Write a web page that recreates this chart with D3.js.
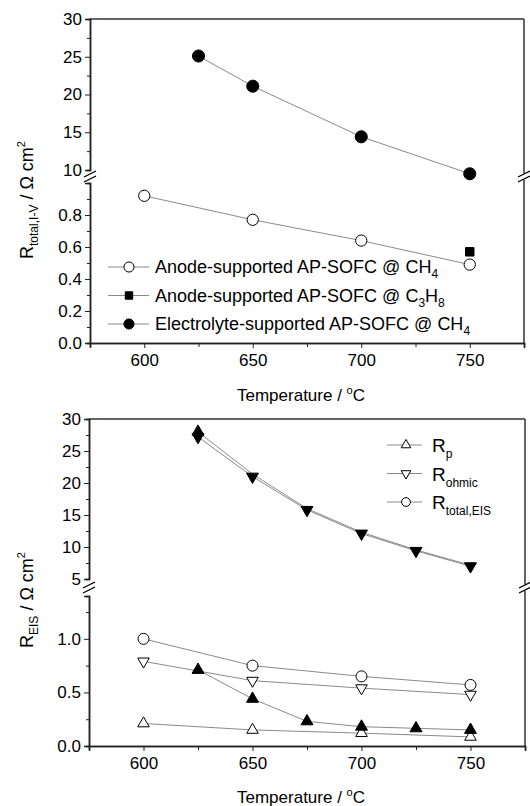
<!DOCTYPE html>
<meta charset="utf-8">
<script src="https://d3js.org/d3.v7.min.js"></script>
<style>
body{margin:0;background:#fff;}
text{font-family:"Liberation Sans",Arial,sans-serif;fill:#000;}
</style>
<body>
<script>
// ---- data ----
var tempsA=[600,650,700,750];
var tempsE=[625,650,675,700,725,750];
// top panel
var anodeCH4=[0.92,0.77,0.64,0.49];
var anodeC3H8=[{t:750,v:0.57}];
var elecCH4T=[625,650,700,750];
var elecCH4=[25.1,21.1,14.4,9.5];
var legendTop=["Anode-supported AP-SOFC @ CH","Anode-supported AP-SOFC @ C","Electrolyte-supported AP-SOFC @ CH"];
// bottom panel
var rpA=[0.21,0.15,0.12,0.085];
var rohmA=[0.79,0.61,0.54,0.48];
var rtotA=[1.0,0.75,0.65,0.57];
var rpE=[0.71,0.44,0.23,0.18,0.165,0.15];
var rohmE=[27.2,21.0,15.8,12.1,9.4,7.0];
var rtotE=[28.0,21.4,16.0,12.3,9.55,7.15];
var xTicks=[600,650,700,750];

var svg=d3.select("body").append("svg").attr("width",530).attr("height",806);
var lineCol="#8a8a8a";

function sym(g,type,x,y,size,filled,rot){
  g.append("path")
   .attr("d",d3.symbol().type(type).size(size)())
   .attr("transform","translate("+x+","+y+")"+(rot?" rotate(180)":""))
   .attr("fill",filled?"#000":"#fff")
   .attr("stroke","#000").attr("stroke-width",1);
}

function drawPanel(o){
  var g=svg.append("g");
  var x=d3.scaleLinear().domain([575,775]).range([o.left,o.right]);
  var yU=d3.scaleLinear().domain(o.uDom).range(o.uRange);
  var yL=d3.scaleLinear().domain(o.lDom).range(o.lRange);

  // frame: top and right
  g.append("line").attr("x1",o.left).attr("x2",o.right).attr("y1",o.top).attr("y2",o.top)
    .attr("stroke","#333").attr("stroke-width",1.5);
  g.append("line").attr("x1",o.right).attr("x2",o.right).attr("y1",o.top).attr("y2",o.bottom)
    .attr("stroke","#333").attr("stroke-width",1.5);

  // y axes (two segments)
  var aU=g.append("g").attr("transform","translate("+o.left+",0)")
    .call(d3.axisLeft(yU).tickValues(o.uTicks).tickSize(5).tickPadding(3).tickFormat(d3.format("d")));
  g.append("g").attr("transform","translate("+o.left+",0)")
    .call(d3.axisLeft(yU).tickValues(o.uMinor).tickSize(3).tickFormat(""));
  var aL=g.append("g").attr("transform","translate("+o.left+",0)")
    .call(d3.axisLeft(yL).tickValues(o.lTicks).tickSize(5).tickPadding(3).tickFormat(d3.format(".1f")));
  g.append("g").attr("transform","translate("+o.left+",0)")
    .call(d3.axisLeft(yL).tickValues(o.lMinor).tickSize(3).tickFormat(""));
  // x axis
  g.append("g").attr("transform","translate(0,"+o.bottom+")")
    .call(d3.axisBottom(x).tickValues(xTicks).tickSize(5).tickPadding(6).tickFormat(d3.format("d")));
  g.append("g").attr("transform","translate(0,"+o.bottom+")")
    .call(d3.axisBottom(x).tickValues([625,675,725]).tickSize(4).tickFormat(""));
  g.selectAll(".domain").attr("stroke","#222").attr("stroke-width",1.5);
  g.selectAll(".tick line").attr("stroke","#222");
  g.selectAll(".tick text").style("font-size","17px").attr("fill","#000");

  // break marks
  var by=(o.uRange[0]+o.lRange[1])/2;
  [o.left,o.right].forEach(function(bx){
    g.append("rect").attr("x",bx-3).attr("y",by-3).attr("width",6).attr("height",6).attr("fill","#fff");
    [-2.5,2.5].forEach(function(d){
      g.append("line").attr("x1",bx-6).attr("x2",bx+6).attr("y1",by+d+3).attr("y2",by+d-3)
        .attr("stroke","#000").attr("stroke-width",1.3);
    });
  });

  // x title
  var xt=g.append("text").attr("x",(o.left+o.right)/2-6).attr("y",o.xTitleY)
    .attr("text-anchor","middle").style("font-size","17px");
  xt.append("tspan").text("Temperature / ");
  xt.append("tspan").text("o").style("font-size","11px").attr("dy",-7);
  xt.append("tspan").text("C").attr("dy",7);

  // y title
  var yt=g.append("text").attr("transform","translate(33,"+o.yTitleY+") rotate(-90)")
    .attr("text-anchor","middle").style("font-size","18px");
  yt.append("tspan").text("R");
  yt.append("tspan").text(o.ySub).style("font-size","12px").attr("dy",5);
  yt.append("tspan").text(" / \u03a9 cm").attr("dy",-5);
  yt.append("tspan").text("2").style("font-size","11px").attr("dy",-8);

  return {g:g,x:x,yU:yU,yL:yL};
}

function line(g,x,y,ts,vs){
  g.append("path").datum(vs)
   .attr("d",d3.line().x(function(d,i){return x(ts[i]);}).y(function(d){return y(d);}))
   .attr("fill","none").attr("stroke",lineCol).attr("stroke-width",1);
}

// ---------------- top panel ----------------
var P1=drawPanel({left:90,right:524,top:19,bottom:343,
  uDom:[10,30],uRange:[170,19],lDom:[0,1],lRange:[343,183],
  uTicks:[10,15,20,25,30],uMinor:[12.5,17.5,22.5,27.5].concat([9]),
  lTicks:[0,0.2,0.4,0.6,0.8],lMinor:[0.1,0.3,0.5,0.7,0.9],
  xTitleY:401,yTitleY:200,ySub:"total,I-V"});
var g1=P1.g;
var yU1=d3.scaleLinear().domain([10,30]).range([170,19]);
line(g1,P1.x,P1.yL,tempsA,anodeCH4);
line(g1,P1.x,yU1,elecCH4T,elecCH4);
anodeCH4.forEach(function(v,i){sym(g1,d3.symbolCircle,P1.x(tempsA[i]),P1.yL(v),100,false);});
anodeC3H8.forEach(function(d){sym(g1,d3.symbolSquare,P1.x(d.t),P1.yL(d.v),72,true);});
elecCH4.forEach(function(v,i){sym(g1,d3.symbolCircle,P1.x(elecCH4T[i]),yU1(v),115,true);});

// top legend
var legSyms=[[d3.symbolCircle,false,80],[d3.symbolSquare,true,55],[d3.symbolCircle,true,80]];
var legSubs=["4","3","4"];
legendTop.forEach(function(t,i){
  var ly=267+i*28.5;
  g1.append("line").attr("x1",108).attr("x2",149).attr("y1",ly).attr("y2",ly).attr("stroke",lineCol);
  sym(g1,legSyms[i][0],129,ly,legSyms[i][2],legSyms[i][1]);
  var tx=g1.append("text").attr("x",155).attr("y",ly+6).style("font-size","18px");
  tx.append("tspan").text(t);
  if(i==1){
    tx.append("tspan").text("3").style("font-size","12px").attr("dy",5);
    tx.append("tspan").text("H").attr("dy",-5);
    tx.append("tspan").text("8").style("font-size","12px").attr("dy",5);
  } else {
    tx.append("tspan").text(legSubs[i]).style("font-size","12px").attr("dy",5);
  }
});

// ---------------- bottom panel ----------------
var P2=drawPanel({left:89,right:525,top:419,bottom:746,
  uDom:[5,30],uRange:[579,419],lDom:[0,1.4],lRange:[746,596],
  uTicks:[5,10,15,20,25,30],uMinor:[4,7.5,12.5,17.5,22.5,27.5],
  lTicks:[0,0.5,1.0],lMinor:[0.25,0.75,1.25],
  xTitleY:803,yTitleY:600,ySub:"EIS"});
var g2=P2.g;
var yU2=P2.yU, yL2=P2.yL;
line(g2,P2.x,yL2,tempsA,rtotA);
line(g2,P2.x,yL2,tempsA,rohmA);
line(g2,P2.x,yL2,tempsA,rpA);
line(g2,P2.x,yL2,tempsE,rpE);
line(g2,P2.x,yU2,tempsE,rtotE);
line(g2,P2.x,yU2,tempsE,rohmE);
rtotA.forEach(function(v,i){sym(g2,d3.symbolCircle,P2.x(tempsA[i]),yL2(v),95,false);});
rohmA.forEach(function(v,i){sym(g2,d3.symbolTriangle,P2.x(tempsA[i]),yL2(v),58,false,true);});
rpA.forEach(function(v,i){sym(g2,d3.symbolTriangle,P2.x(tempsA[i]),yL2(v),58,false);});
rpE.forEach(function(v,i){sym(g2,d3.symbolTriangle,P2.x(tempsE[i]),yL2(v),62,true);});
sym(g2,d3.symbolTriangle,P2.x(tempsE[0]),yU2(rtotE[0]),62,true);
rohmE.forEach(function(v,i){sym(g2,d3.symbolTriangle,P2.x(tempsE[i]),yU2(v),62,true,true);});

// bottom legend
var leg2=[["p",d3.symbolTriangle,false],["ohmic",d3.symbolTriangle,true],["total,EIS",d3.symbolCircle,false]];
leg2.forEach(function(d,i){
  var ly=445+i*28.5;
  g2.append("line").attr("x1",387).attr("x2",422).attr("y1",ly).attr("y2",ly).attr("stroke",lineCol);
  sym(g2,d[1],406,ly,d[1]==d3.symbolCircle?60:40,false,d[2]);
  var tx=g2.append("text").attr("x",432).attr("y",ly+7).style("font-size","19px");
  tx.append("tspan").text("R");
  tx.append("tspan").text(d[0]).style("font-size","12px").attr("dy",6);
});
</script>
</body>
</html>
